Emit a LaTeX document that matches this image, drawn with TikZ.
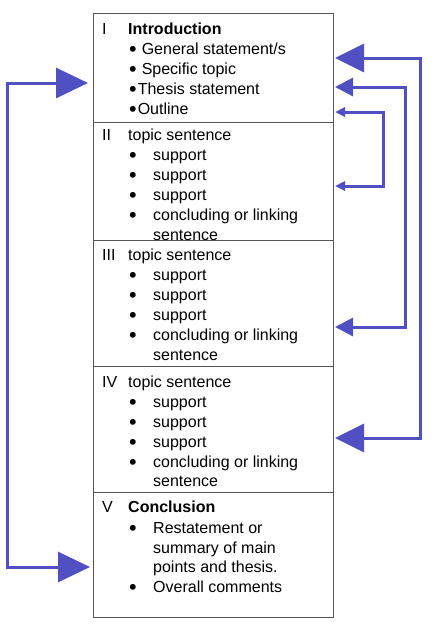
\documentclass[tikz,border=0pt]{standalone}
\usepackage{fontspec}
\setmainfont{Liberation Sans}
\usepackage{graphicx}
\usepackage{tikz}
\usetikzlibrary{arrows.meta}
\definecolor{linkblue}{RGB}{80,80,195}
\definecolor{boxgray}{RGB}{85,85,85}
\newcommand{\dotmark}{\smash{\raisebox{-2pt}{\scalebox{1.35}{\textbullet}}}}
\newcommand{\bul}{\makebox[24pt][l]{\dotmark}}
\tikzset {
    part/.style = {
        draw=boxgray,
        line width=1.2pt,
        anchor=north west,
        inner sep=0pt,
        minimum width=240pt
    },
    txt/.style = {
        anchor=base west,
        inner sep=0pt,
        font=\fontsize{16}{20}\selectfont
    },
    head/.style = {
        txt,
        font=\fontsize{16}{20}\selectfont\bfseries
    },
    link/.style = {
        draw=linkblue,
        line width=3pt
    },
    tips/.style args = {#1/#2}{
        {Triangle[length=#1,width=#2]}-{Triangle[length=#1,width=#2]}
    }
}
\begin{document}
\begin{tikzpicture}[x=1pt, y=-1pt]
        \useasboundingbox (0,0) rectangle (432,625);

        % The five parts of the outline, stacked
        \node [part, minimum height=109pt] at (93,13)   (intro) {};
        \node [part, minimum height=118pt] at (93,122)  (body1) {};
        \node [part, minimum height=126pt] at (93,240)  (body2) {};
        \node [part, minimum height=126pt] at (93,366)  (body3) {};
        \node [part, minimum height=125pt] at (93,492)  (concl) {};

        % Part I : introduction
        \node [txt]  at (102,34)  (n1)  {I};
        \node [head] at (128,34)  (h1)  {Introduction};
        \node [txt]  at (129,54)  (i11) {\dotmark\hspace{5pt}General statement/s};
        \node [txt]  at (129,74)  (i12) {\dotmark\hspace{5pt}Specific topic};
        \node [txt]  at (129,94)  (i13) {\dotmark\hspace{1pt}Thesis statement};
        \node [txt]  at (129,114) (i14) {\dotmark\hspace{1pt}Outline};

        % Part II : first body paragraph
        \node [txt] at (102,140) (n2)  {II};
        \node [txt] at (128,140) (h2)  {topic sentence};
        \node [txt] at (129,160) (i21) {\bul support};
        \node [txt] at (129,180) (i22) {\bul support};
        \node [txt] at (129,200) (i23) {\bul support};
        \node [txt] at (129,220) (i24) {\bul concluding or linking};
        \node [txt] at (153,240) (i25) {sentence};

        % Part III : second body paragraph
        \node [txt] at (102,260) (n3)  {III};
        \node [txt] at (128,260) (h3)  {topic sentence};
        \node [txt] at (129,280) (i31) {\bul support};
        \node [txt] at (129,300) (i32) {\bul support};
        \node [txt] at (129,320) (i33) {\bul support};
        \node [txt] at (129,340) (i34) {\bul concluding or linking};
        \node [txt] at (153,360) (i35) {sentence};

        % Part IV : third body paragraph
        \node [txt] at (102,387) (n4)  {IV};
        \node [txt] at (128,387) (h4)  {topic sentence};
        \node [txt] at (129,407) (i41) {\bul support};
        \node [txt] at (129,427) (i42) {\bul support};
        \node [txt] at (129,447) (i43) {\bul support};
        \node [txt] at (129,467) (i44) {\bul concluding or linking};
        \node [txt] at (153,486) (i45) {sentence};

        % Part V : conclusion
        \node [txt]  at (102,512) (n5)  {V};
        \node [head] at (128,512) (h5)  {Conclusion};
        \node [txt]  at (129,533) (i51) {\bul Restatement or};
        \node [txt]  at (153,553) (i52) {summary of main};
        \node [txt]  at (153,572) (i53) {points and thesis.};
        \node [txt]  at (129,592) (i54) {\bul Overall comments};

        % Arrow ends on the box sides and the rails they run along
        \coordinate (introL)  at (88,83);
        \coordinate (conclL)  at (90,567);
        \coordinate (railL)   at (7,300);
        \coordinate (introR1) at (335,58);
        \coordinate (body3R)  at (335,438);
        \coordinate (railR1)  at (420,250);
        \coordinate (introR2) at (335,87);
        \coordinate (body2R)  at (335,327);
        \coordinate (railR2)  at (405,200);
        \coordinate (introR3) at (335,112);
        \coordinate (body1R)  at (335,186);
        \coordinate (railR3)  at (383,150);

        \path [link, tips={32pt/30pt}] (introL)  -| (railL)  |- (conclL);
        \path [link, tips={29pt/28pt}] (introR1) -| (railR1) |- (body3R);
        \path [link, tips={18pt/18pt}] (introR2) -| (railR2) |- (body2R);
        \path [link, tips={10pt/9pt}]  (introR3) -| (railR3) |- (body1R);
\end{tikzpicture}
\end{document}
